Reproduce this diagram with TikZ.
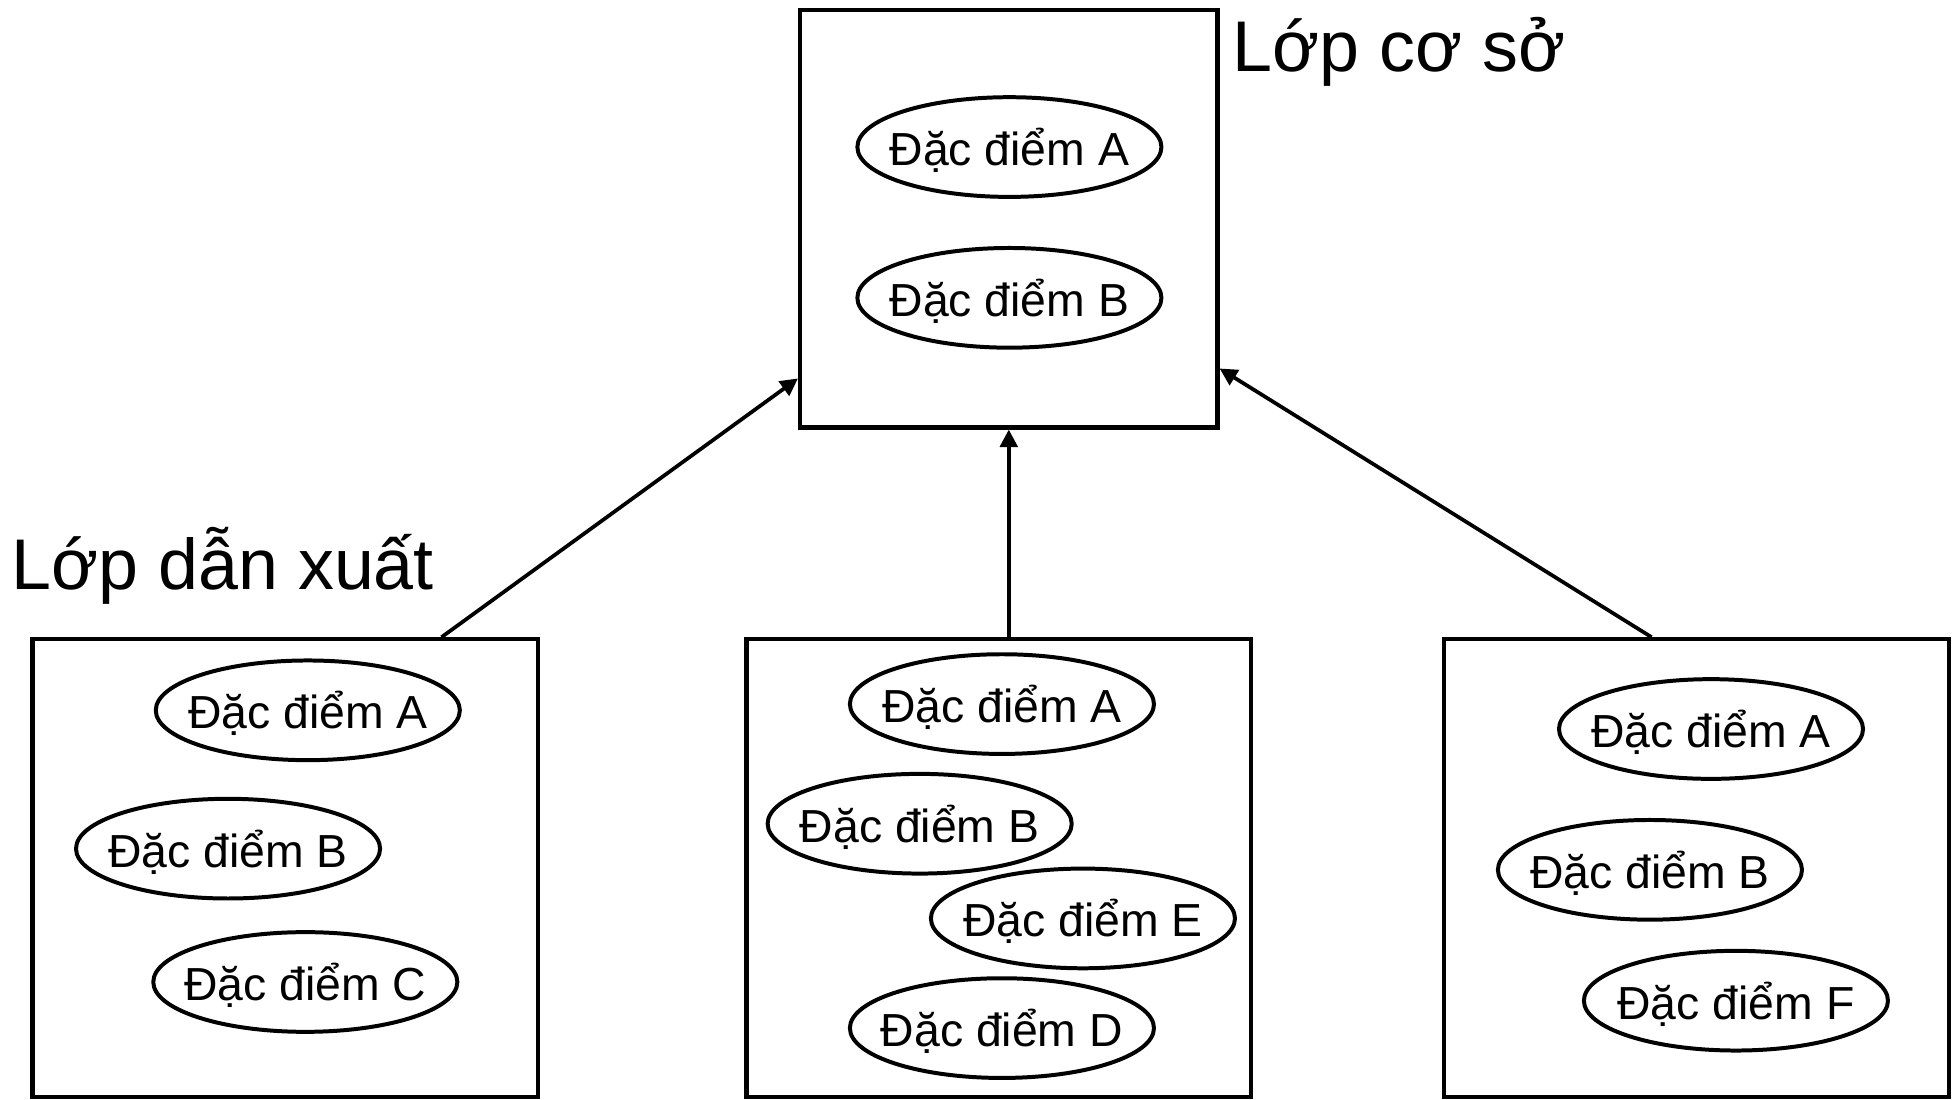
\documentclass[tikz,border=0pt]{standalone}
\usepackage{fontspec}
\setmainfont{Liberation Sans}
\usetikzlibrary{shapes.geometric,arrows.meta}
\begin{document}
\begin{tikzpicture}[x=0.5pt,y=-0.5pt,
 feattext/.style={inner sep=0pt,yshift=-0.75pt,
   font=\fontsize{18.6pt}{20pt}\selectfont,text height=13.3pt,text depth=0pt},
 feat/.style={draw,ellipse,line width=1.6pt,minimum width=122pt,minimum height=40pt,inner sep=0pt,
   label={[feattext]center:#1}},
 cls/.style={draw,rectangle,line width=1.7pt,inner sep=0pt},
 lowcls/.style={cls,minimum width=202.5pt,minimum height=183.5pt},
 ttl/.style={anchor=base west,inner sep=0pt,font=\fontsize{28.8pt}{32pt}\selectfont},
 arr/.style={line width=1.5pt,-{Triangle[length=7pt,width=7pt]}}]
\useasboundingbox (0,0) rectangle (1568,882);
% base class
\node[cls,minimum width=167.5pt,minimum height=167.5pt] (base) at (809.5,175.5) {};
\node[feat={Đặc điểm A}] (bA) at (810,118) {};
\node[feat={Đặc điểm B}] (bB) at (810,239) {};
\node[ttl] (tbase) at (989,57) {Lớp cơ sở};
% derived classes
\node[lowcls,minimum width=203pt] (left) at (229,696.5) {};
\node[lowcls] (mid) at (801.5,696.5) {};
\node[lowcls] (right) at (1361.5,696.5) {};
\node[ttl] (tder) at (9,473) {Lớp dẫn xuất};
% left features
\node[feat={Đặc điểm A}] (lA) at (247,570) {};
\node[feat={Đặc điểm B}] (lB) at (183,681) {};
\node[feat={Đặc điểm C}] (lC) at (245,788) {};
% middle features
\node[feat={Đặc điểm A}] (mA) at (804,565) {};
\node[feat={Đặc điểm B}] (mB) at (738,661) {};
\node[feat={Đặc điểm E}] (mE) at (869,737) {};
\node[feat={Đặc điểm D}] (mD) at (804,825) {};
% right features
\node[feat={Đặc điểm A}] (rA) at (1373,585) {};
\node[feat={Đặc điểm B}] (rB) at (1324,698) {};
\node[feat={Đặc điểm F}] (rF) at (1393,803) {};
% arrows
\draw[arr] ([xshift=165pt]left.north west) -- ([yshift=20.5pt]base.south west);
\draw[arr] (mid.north -| base.south) -- (base.south);
\draw[arr] ([xshift=84pt]right.north west) -- ([yshift=24.5pt]base.south east);
\end{tikzpicture}
\end{document}
